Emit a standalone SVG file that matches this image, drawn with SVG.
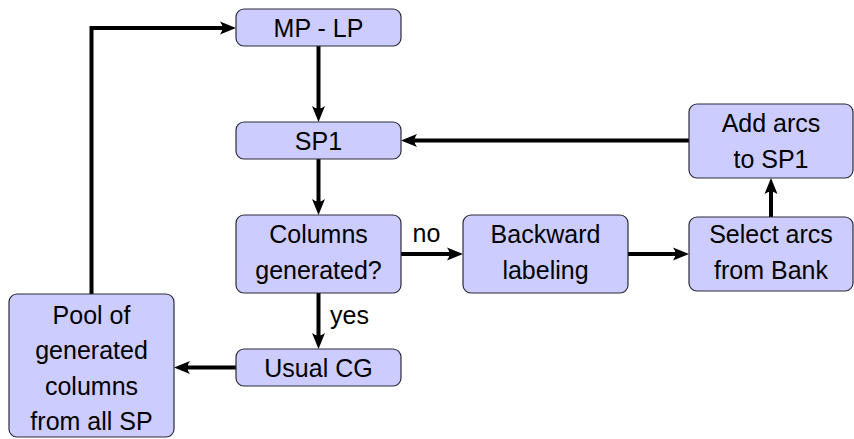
<svg xmlns="http://www.w3.org/2000/svg" width="854" height="439" viewBox="0 0 854 439">
  <style>
    .box { fill: #ccccff; stroke: #2b2b3a; stroke-width: 1.2; }
    .lbl { font-family: "Liberation Sans", Arial, sans-serif; font-size: 25px; fill: #000; text-anchor: middle; }
    .tag { font-family: "Liberation Sans", Arial, sans-serif; font-size: 25px; fill: #000; }
    .edge { fill: none; stroke: #000; stroke-width: 4; }
  </style>
  <defs>
    <marker id="head" markerUnits="userSpaceOnUse" markerWidth="18" markerHeight="14" refX="9" refY="7" orient="auto">
      <path d="M1,0.5 L17,7 L1,13.5 Q6,7 1,0.5 Z" fill="#000"/>
    </marker>
  </defs>

  <g id="connectors">
    <!-- MP-LP to SP1 -->
    <path class="edge" d="M318.5,46 L318.5,114" marker-end="url(#head)"/>
    <!-- SP1 to decision -->
    <path class="edge" d="M318.5,159 L318.5,207" marker-end="url(#head)"/>
    <!-- decision: no -->
    <path class="edge" d="M401,254 L455,254" marker-end="url(#head)"/>
    <!-- backward labeling to select arcs -->
    <path class="edge" d="M628,254 L681,254" marker-end="url(#head)"/>
    <!-- select arcs up to add arcs -->
    <path class="edge" d="M771,217 L771,186" marker-end="url(#head)"/>
    <!-- add arcs back to SP1 -->
    <path class="edge" d="M689,140.5 L409,140.5" marker-end="url(#head)"/>
    <!-- decision: yes -->
    <path class="edge" d="M318.5,293 L318.5,341" marker-end="url(#head)"/>
    <!-- usual CG to pool -->
    <path class="edge" d="M236,367.5 L182,367.5" marker-end="url(#head)"/>
    <!-- pool back to master problem -->
    <path class="edge" d="M91.5,294 L91.5,28 L228,28" marker-end="url(#head)"/>
    <text class="tag" x="426.5" y="242" text-anchor="middle">no</text>
    <text class="tag" x="330" y="324">yes</text>
  </g>

  <g id="mp-lp">
    <rect class="box" x="236" y="9" width="165" height="37" rx="8"/>
    <text class="lbl" x="318.5" y="36.5">MP - LP</text>
  </g>

  <g id="sp1">
    <rect class="box" x="236" y="122" width="165" height="37" rx="8"/>
    <text class="lbl" x="318.5" y="150">SP1</text>
  </g>

  <g id="columns-generated">
    <rect class="box" x="236" y="215" width="165" height="78" rx="8"/>
    <text class="lbl" x="318.5" y="243">Columns</text>
    <text class="lbl" x="318.5" y="279">generated?</text>
  </g>

  <g id="backward-labeling">
    <rect class="box" x="463" y="215" width="165" height="78" rx="8"/>
    <text class="lbl" x="545.5" y="243">Backward</text>
    <text class="lbl" x="545.5" y="279">labeling</text>
  </g>

  <g id="select-arcs">
    <rect class="box" x="689" y="217" width="164" height="74" rx="8"/>
    <text class="lbl" x="771" y="243">Select arcs</text>
    <text class="lbl" x="771" y="279">from Bank</text>
  </g>

  <g id="add-arcs">
    <rect class="box" x="689" y="104" width="164" height="74" rx="8"/>
    <text class="lbl" x="771" y="131.5">Add arcs</text>
    <text class="lbl" x="771" y="168">to SP1</text>
  </g>

  <g id="usual-cg">
    <rect class="box" x="236" y="349" width="165" height="37" rx="8"/>
    <text class="lbl" x="318.5" y="377">Usual CG</text>
  </g>

  <g id="pool">
    <rect class="box" x="9" y="294" width="165" height="143" rx="8"/>
    <text class="lbl" x="91.5" y="324">Pool of</text>
    <text class="lbl" x="91.5" y="359">generated</text>
    <text class="lbl" x="91.5" y="394.5">columns</text>
    <text class="lbl" x="91.5" y="430">from all SP</text>
  </g>
</svg>
